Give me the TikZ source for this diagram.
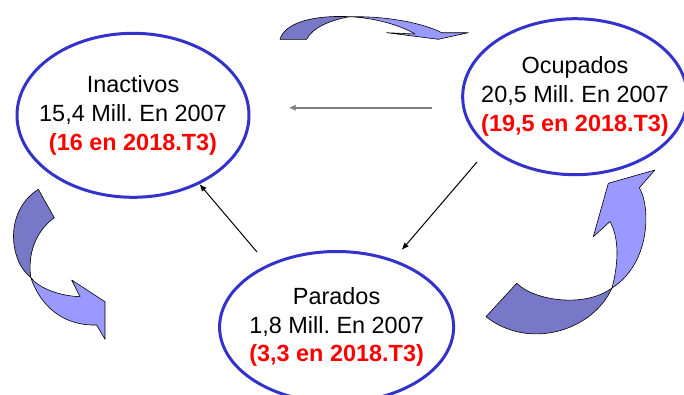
\documentclass[tikz,border=0pt]{standalone}
\usepackage{fontspec}
\setmainfont{Liberation Sans}
\frenchspacing
\usetikzlibrary{shapes.geometric,arrows.meta}
\definecolor{ellipseblue}{RGB}{51,51,204}
\definecolor{ribbondark}{RGB}{120,120,200}
\definecolor{ribbonlight}{RGB}{153,153,255}
\definecolor{flowgray}{RGB}{128,128,128}
\begin{document}
\begin{tikzpicture}[
    stateellipse/.style={ellipse, draw=ellipseblue, line width=0.090cm, inner sep=0pt},
    statelabel/.style={align=center, inner sep=0pt, font=\fontsize{20}{24.6}\selectfont},
    flowarrow/.style={line width=0.030cm, -{Latex[length=0.22cm,width=0.18cm]}},
    ribbon/.style={draw=black, line width=0.018cm, line join=round}
  ]
            \useasboundingbox (0,0) rectangle (20.520000,11.820000);
            \clip (0,0) rectangle (20.520000,11.820000);
            {\fontsize{20}{24.6}\selectfont

            % Drawing ellipse inactivos
            \node [stateellipse, minimum width=6.960000cm, minimum height=4.920000cm] (inactivos) at (3.990000,8.361000) {};%

            % Drawing ellipse ocupados
            \node [stateellipse, minimum width=6.740000cm, minimum height=4.680000cm] (ocupados) at (17.250000,8.919000) {};%

            % Drawing ellipse parados
            \node [stateellipse, minimum width=7.020000cm, minimum height=4.530000cm] (parados) at (10.098000,2.010000) {};%

            % Marking point {Inactivos}
            \node [statelabel] (inactivos-text) at (inactivos.center) {Inactivos\\15,4 Mill. En 2007\\\textcolor{red}{\bfseries (16 en 2018.T3)}};%

            % Marking point {Ocupados}
            \node [statelabel] (ocupados-text) at (ocupados.center) {Ocupados\\20,5 Mill. En 2007\\\textcolor{red}{\bfseries (19,5 en 2018.T3)}};%

            % Marking point {Parados}
            \node [statelabel] (parados-text) at (parados.center) {Parados\\1,8 Mill. En 2007\\\textcolor{red}{\bfseries (3,3 en 2018.T3)}};%

            % Free ends of the flows
            \coordinate (ocup-inact-a) at (12.960000,8.589000);%
            \coordinate (ocup-inact-b) at (8.670000,8.589000);%
            \coordinate (ocup-par-a) at (14.310000,6.960000);%
            \coordinate (ocup-par-b) at (12.051000,4.320000);%
            \coordinate (par-inact-a) at (7.710000,4.260000);%

            % Drawing arrow ocupados inactivos
            \draw [flowarrow, draw=flowgray, line width=0.060cm, -{Latex[length=0.20cm,width=0.20cm]}] (ocup-inact-a) -- (ocup-inact-b);%

            % Drawing arrow ocupados parados
            \draw [flowarrow] (ocup-par-a) -- (ocup-par-b);%

            % Drawing arrow parados inactivos
            \draw [flowarrow] (par-inact-a) -- (inactivos.-46);%

            % Drawing ribbon inactivos ocupados (top)
            \filldraw [ribbon, fill=ribbondark] (8.400000,10.641000) .. controls (8.550000,11.160000) and (9.450000,11.370000) .. (10.500000,11.319000)
                .. controls (9.900000,11.220000) and (9.360000,10.980000) .. (9.201000,10.641000) -- cycle;%
            \filldraw [ribbon, fill=ribbonlight] (10.500000,11.319000) .. controls (11.700000,11.340000) and (12.750000,11.100000) .. (13.251000,10.839000)
                -- (14.049000,10.839000) -- (13.149000,10.641000) -- (11.601000,10.839000) -- (12.450000,10.800000)
                .. controls (12.000000,11.070000) and (11.250000,11.280000) .. (10.500000,11.319000) -- cycle;%

            % Drawing ribbon inactivos inactivos (left)
            \filldraw [ribbon, fill=ribbondark] (1.149000,6.141000) -- (1.629000,5.289000)
                .. controls (1.200000,4.980000) and (0.810000,4.380000) .. (0.921000,3.501000)
                .. controls (0.300000,3.960000) and (0.090000,5.460000) .. (1.149000,6.141000) -- cycle;%
            \filldraw [ribbon, fill=ribbonlight] (0.921000,3.501000) .. controls (1.140000,3.180000) and (1.800000,2.940000) .. (2.400000,2.919000)
                -- (2.151000,3.420000) -- (3.150000,2.769000) -- (3.150000,1.641000) -- (2.901000,2.070000)
                .. controls (1.860000,2.040000) and (1.200000,2.670000) .. (0.921000,3.501000) -- cycle;%

            % Drawing ribbon parados ocupados (right)
            \filldraw [ribbon, fill=ribbondark] (14.580000,2.319000) -- (15.501000,3.321000)
                .. controls (16.050000,2.790000) and (17.550000,2.580000) .. (18.360000,3.180000)
                .. controls (17.760000,1.860000) and (15.840000,1.320000) .. (14.580000,2.319000) -- cycle;%
            \filldraw [ribbon, fill=ribbonlight] (18.360000,3.180000) .. controls (18.540000,3.870000) and (18.600000,4.620000) .. (18.300000,5.175000)
                -- (17.799000,4.719000) -- (18.249000,6.321000) -- (19.650000,6.720000) -- (19.179000,6.189000)
                .. controls (19.500000,5.670000) and (19.560000,3.960000) .. (18.360000,3.180000) -- cycle;%
            }
\end{tikzpicture}
\end{document}
